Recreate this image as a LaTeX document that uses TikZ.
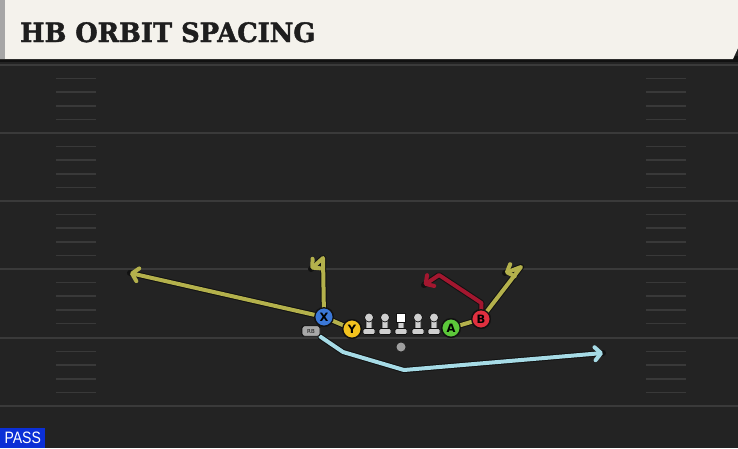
\documentclass[tikz,border=0pt]{standalone}
\usepackage{fontspec}
\usetikzlibrary{arrows.meta}
\newfontfamily\headfont{DejaVu Serif}[BoldFeatures={FakeBold=1.6}]
\newfontfamily\lblfont{DejaVu Sans}
\newfontfamily\passfont{Liberation Sans}
\definecolor{fieldbg}{HTML}{232323}
\definecolor{yardline}{HTML}{3A3A3A}
\definecolor{hashcol}{HTML}{393939}
\definecolor{headerbg}{HTML}{F4F2EC}
\definecolor{headertxt}{HTML}{1E1E1E}
\definecolor{olive}{HTML}{B4B14C}
\definecolor{crimson}{HTML}{A3172F}
\definecolor{skyroute}{HTML}{A6DBE6}
\definecolor{outl}{HTML}{111111}
\definecolor{pblue}{HTML}{3B78D8}
\definecolor{pyellow}{HTML}{F2C21E}
\definecolor{pgreen}{HTML}{5CC83A}
\definecolor{pred}{HTML}{E0303F}
\definecolor{lgray}{HTML}{CFCFCF}
\definecolor{rbgray}{HTML}{A8A8A8}
\definecolor{passblue}{HTML}{0B2FD6}
\tikzset{
  yard/.style={draw=yardline, line width=2pt},
  hashmark/.style={draw=hashcol, line width=1.6pt},
  route/.style={line width=4pt, line join=round, line cap=round,
    preaction={draw=outl, line width=6pt, line join=round, line cap=round, arrows=-}},
  tip/.style={-{Straight Barb[length=6pt,width=13pt,line join=round,line cap=round]}},
  player/.style={circle, minimum size=18.5pt, inner sep=0pt, draw=outl, line width=1.3pt,
    font=\lblfont\bfseries\fontsize{11.5}{11.5}\selectfont, text=black},
  rbbox/.style={rounded corners=2.5pt, fill=rbgray, draw=outl, line width=0.9pt, minimum width=18pt,
    minimum height=10.5pt, inner sep=0pt, font=\lblfont\fontsize{5.5}{6}\selectfont, text=outl},
  lineman/.pic={
    \fill[lgray, draw=outl, line width=0.7pt, rounded corners=1pt] (-3,-8) rectangle (3,4);
    \fill[lgray, draw=outl, line width=0.7pt, rounded corners=1.5pt] (-6,2.5) rectangle (6,8.5);
    \fill[lgray, draw=outl, line width=0.7pt] (0,-8.5) circle (4.5);
  },
  centerman/.pic={
    \fill[lgray, draw=outl, line width=0.7pt, rounded corners=1pt] (-3,-6) rectangle (3,4);
    \fill[lgray, draw=outl, line width=0.7pt, rounded corners=1.5pt] (-6,2.5) rectangle (6,8.5);
    \fill[white, draw=outl, line width=0.7pt] (-4.5,-13) rectangle (4.5,-4);
  }
}
\begin{document}
\begin{tikzpicture}[x=1pt,y=-1pt]
\useasboundingbox (0,0) rectangle (738,448);
\fill[fieldbg] (0,0) rectangle (738,448);
% yard lines
\foreach \y in {65,133,201,269,338,406} \draw[yard] (0,\y) -- (738,\y);
% hash marks
\foreach \b in {65,133,201,269,338} {
  \foreach \k in {1,2,3,4} {
    \draw[hashmark] (56,\b+13.6*\k) -- (96,\b+13.6*\k);
    \draw[hashmark] (646,\b+13.6*\k) -- (686,\b+13.6*\k);
  }
}
% header
\fill[outl] (0,56) rectangle (738,62);
\fill[headerbg] (0,0) -- (738,0) -- (738,48) -- (733,59) -- (0,59) -- cycle;
\fill[gray!70] (0,0) rectangle (5,59);
\node[anchor=base west, inner sep=0pt, text=headertxt,
  font=\headfont\bfseries\fontsize{26.7}{30}\selectfont] (title) at (20,42) {\scalebox{0.965}[1]{HB ORBIT SPACING}};

% players
\node[player, fill=pblue] (X) at (324,317) {X};
\node[player, fill=pyellow] (Y) at (352,329) {Y};
\node[player, fill=pgreen] (A) at (451,328) {A};
\node[player, fill=pred] (B) at (481,319) {B};
\node[rbbox] (RB) at (311,331) {RB};
\node[circle, fill=gray!75, minimum size=9pt, inner sep=0pt] (QB) at (401,347) {};

% route end points
\coordinate (xl) at (130,273);
\coordinate (xt) at (323,258);
\coordinate (xh) at (311,269);
\coordinate (bt) at (521,267);
\coordinate (bh) at (505,273);
\coordinate (r1) at (481.5,303);
\coordinate (r2) at (439,275);
\coordinate (r3) at (424,285);
\coordinate (h1) at (343,352);
\coordinate (h2) at (404,370);
\coordinate (h3) at (603,353);

\draw[route, olive, tip] (X.center) -- (xl);
\draw[route, olive, tip] (X.center) -- (xt) -- (xh);
\draw[route, olive] (X.center) -- (Y.center);
\draw[route, olive] (A.center) -- (B.center);
\draw[route, olive, tip] (B.center) -- (bt) -- (bh);
\draw[route, crimson, tip] (B.center) -- (r1) -- (r2) -- (r3);
\draw[route, skyroute, tip] (RB.south east) -- (h1) -- (h2) -- (h3);

% players drawn on top of routes
\node[player, fill=pblue] (X2) at (X) {X};
\node[player, fill=pyellow] (Y2) at (Y) {Y};
\node[player, fill=pgreen] (A2) at (A) {A};
\node[player, fill=pred] (B2) at (B) {B};
\node[rbbox] (RB2) at (RB) {RB};
\pic at (369,326) {lineman};
\pic at (385,326) {lineman};
\pic at (401,326) {centerman};
\pic at (418,326) {lineman};
\pic at (434,326) {lineman};

% play type
\node[anchor=south west, fill=passblue, text=white, minimum width=45pt, minimum height=20pt, inner sep=0pt,
  font=\passfont\fontsize{16.5}{16.5}\selectfont] (pass) at (0,448) {\scalebox{0.85}[1]{PASS}};
\end{tikzpicture}
\end{document}
